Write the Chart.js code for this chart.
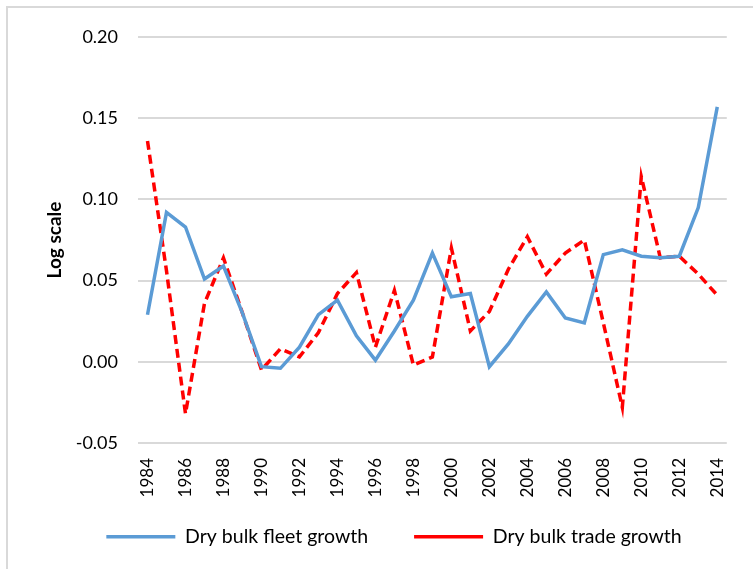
<!DOCTYPE html>
<html>
<head>
<meta charset="utf-8">
<script src="https://cdn.jsdelivr.net/npm/chart.js@4/dist/chart.umd.min.js"></script>
<style>
    body { margin: 0; background: #fff; }
    #wrap { position: relative; width: 753px; height: 569px; overflow: hidden; }
    #frame { position: absolute; left: 6px; top: 6px; width: 800px; height: 620px; border: 2px solid #d9d9d9; }
    canvas { position: absolute; left: 0; top: 0; }
</style>
</head>
<body>
<div id="wrap">
    <div id="frame"></div>
    <canvas id="myChart" width="753" height="569"></canvas>
</div>
<script>
const years = ['1984', '1985', '1986', '1987', '1988', '1989', '1990', '1991', '1992', '1993',
    '1994', '1995', '1996', '1997', '1998', '1999', '2000', '2001', '2002', '2003',
    '2004', '2005', '2006', '2007', '2008', '2009', '2010', '2011', '2012', '2013', '2014'];

const fleetGrowth = [0.029, 0.092, 0.083, 0.051, 0.059, 0.030, -0.003, -0.004, 0.009, 0.029,
    0.038, 0.016, 0.001, 0.019, 0.038, 0.067, 0.040, 0.042, -0.003, 0.011,
    0.028, 0.043, 0.027, 0.024, 0.066, 0.069, 0.065, 0.064, 0.065, 0.095, 0.157];

const tradeGrowth = [0.136, 0.056, -0.032, 0.036, 0.064, 0.030, -0.005, 0.008, 0.003, 0.018,
    0.042, 0.055, 0.009, 0.044, -0.002, 0.003, 0.070, 0.019, 0.031, 0.057,
    0.077, 0.054, 0.067, 0.075, 0.024, -0.028, 0.114, 0.064, 0.065, 0.054, 0.041];

const yTicks = [-0.05, 0.00, 0.05, 0.10, 0.15, 0.20];

// legend sits closer to the axis labels than chart.js would put it
const legendLift = {
    id: 'legendLift',
    afterLayout(chart) {
        chart.legend.top -= 22;
        chart.legend.bottom -= 22;
    }
};

const ctx = document.getElementById('myChart').getContext('2d');

new Chart(ctx, {
    type: 'line',
    data: {
        labels: years,
        datasets: [
            {
                label: 'Dry bulk fleet growth',
                data: fleetGrowth,
                borderColor: '#5B9BD5',
                backgroundColor: '#5B9BD5',
                borderWidth: 3.5,
                pointRadius: 0,
                tension: 0,
            },
            {
                label: 'Dry bulk trade growth',
                data: tradeGrowth,
                borderColor: '#FF0000',
                backgroundColor: '#FF0000',
                borderWidth: 3.5,
                borderDash: [9, 5],
                pointRadius: 0,
                tension: 0,
            },
        ],
    },
    options: {
        responsive: false,
        animation: false,
        layout: {
            padding: { left: 55, top: 37, right: 20, bottom: 0 }
        },
        plugins: {
            legend: {
                position: 'bottom',
                maxHeight: 66,
                labels: {
                    font: { family: 'Lato', size: 19.5 },
                    color: '#000',
                    usePointStyle: true,
                    pointStyle: 'line',
                    pointStyleWidth: 69,
                    boxHeight: 20,
                    padding: 46,
                }
            },
            tooltip: { enabled: false }
        },
        scales: {
            x: {
                offset: true,
                grid: { display: false, drawTicks: false },
                border: { display: false },
                ticks: {
                    font: { family: 'Lato', size: 17 },
                    color: '#000',
                    autoSkip: false,
                    maxRotation: 90,
                    minRotation: 90,
                    padding: 15,
                    callback: function (value, index) {
                        return index % 2 === 0 ? years[index] : '';
                    }
                },
                afterFit: function (scale) { scale.height = 60; }
            },
            y: {
                min: yTicks[0],
                max: yTicks[yTicks.length - 1],
                grid: { color: '#d9d9d9', lineWidth: 2, drawTicks: false },
                border: { display: false },
                ticks: {
                    font: { family: 'Lato', size: 18 },
                    color: '#000',
                    stepSize: 0.05,
                    padding: 20,
                    callback: function (value) { return value.toFixed(2); }
                },
                title: {
                    display: true,
                    text: 'Log scale',
                    font: { family: 'Lato', size: 19, weight: 'bold' },
                    color: '#000',
                    padding: { top: -11.4, bottom: 0 }
                },
                afterFit: function (scale) { scale.width = 83; }
            }
        }
    },
    plugins: [legendLift]
});
</script>
</body>
</html>
